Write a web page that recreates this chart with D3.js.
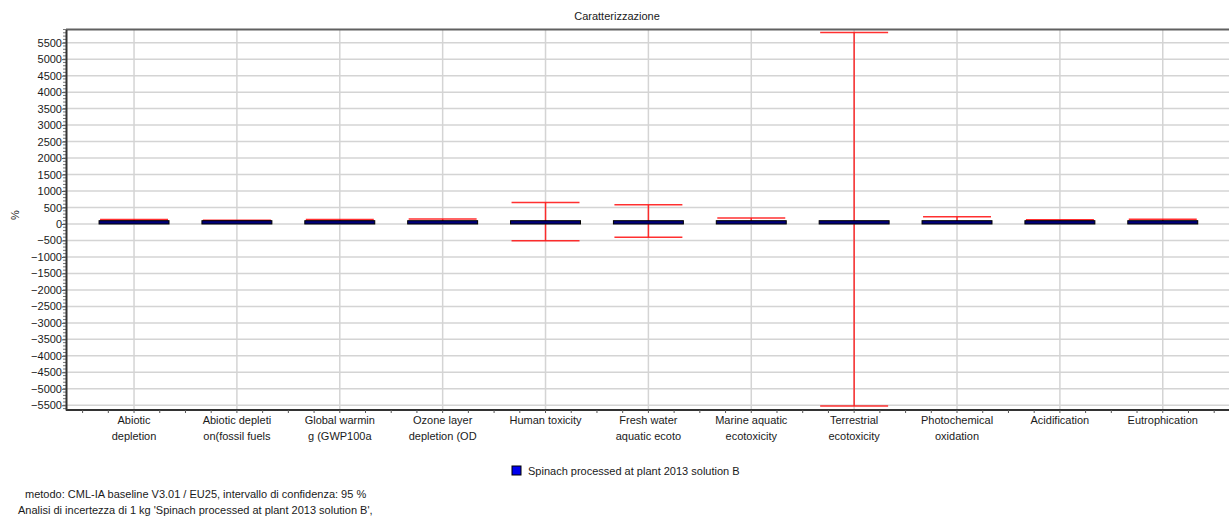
<!DOCTYPE html>
<html>
<head>
<meta charset="utf-8">
<script src="https://cdn.jsdelivr.net/npm/d3@7"></script>
<style>
  html, body { margin: 0; padding: 0; background: #fff; }
  svg { display: block; font-family: "Liberation Sans", "DejaVu Sans", sans-serif; }
</style>
</head>
<body>
<svg id="chart" width="1229" height="517"></svg>
<script>
// Impact categories (two-line labels as shown under the axis)
const categories = [
  ["Abiotic", "depletion"],
  ["Abiotic depleti", "on(fossil fuels"],
  ["Global warmin", "g (GWP100a"],
  ["Ozone layer", "depletion (OD"],
  ["Human toxicity", ""],
  ["Fresh water", "aquatic ecoto"],
  ["Marine aquatic", "ecotoxicity"],
  ["Terrestrial", "ecotoxicity"],
  ["Photochemical", "oxidation"],
  ["Acidification", ""],
  ["Eutrophication", ""]
];
// Characterisation result, % of the reference value
const values = [100, 100, 100, 100, 100, 100, 100, 100, 100, 100, 100];
// 95 % confidence interval bounds, %
const lower = [85, 90, 85, 60, -510, -400, 60, -5520, 50, 80, 60];
const upper = [135, 115, 135, 150, 650, 580, 182, 5810, 221, 130, 142];
// Y axis tick labels
const yTicks = d3.range(-5500, 5501, 500);
const yMinor = d3.range(-5600, 5901, 100);

const seriesName = "Spinach processed at plant 2013 solution B";
const footer = [
  "metodo: CML-IA baseline V3.01 / EU25, intervallo di confidenza: 95 %",
  "Analisi di incertezza di 1 kg 'Spinach processed at plant 2013 solution B',"
];

const svg = d3.select("#chart");
const plot = { left: 66, right: 1229, top: 29.5, bottom: 410 };

const x = d3.scaleBand()
  .domain(categories.map((d, i) => i))
  .range([82.6, 1214.2])
  .padding(0);
const y = d3.scaleLinear().domain([-5643, 5900]).range([plot.bottom, plot.top]);

const fontSize = 11;
const textColor = "#1a1a1a";

// Title
svg.append("text")
  .attr("x", 617).attr("y", 20)
  .attr("text-anchor", "middle")
  .attr("font-size", fontSize).attr("fill", textColor)
  .text("Caratterizzazione");

// Horizontal grid
svg.append("g").selectAll("line").data(yTicks).join("line")
  .attr("x1", plot.left).attr("x2", plot.right)
  .attr("y1", d => y(d)).attr("y2", d => y(d))
  .attr("stroke", "#d4d4d4").attr("stroke-width", 1.5);

// Vertical grid through category centres
svg.append("g").selectAll("line").data(categories.map((d, i) => i)).join("line")
  .attr("x1", i => x(i) + x.bandwidth() / 2).attr("x2", i => x(i) + x.bandwidth() / 2)
  .attr("y1", plot.top).attr("y2", plot.bottom)
  .attr("stroke", "#d4d4d4").attr("stroke-width", 1.5);

const barW = x.bandwidth() * 0.68;

// Error bars (confidence interval), drawn beneath the bars
const eb = svg.append("g").attr("stroke", "#ff1a1a").attr("stroke-width", 1.5).attr("stroke-opacity", 0.9);
categories.forEach((c, i) => {
  const cx = x(i) + x.bandwidth() / 2;
  const half = barW / 2 - 1;
  eb.append("line").attr("x1", cx).attr("x2", cx).attr("y1", y(lower[i])).attr("y2", y(upper[i]));
  eb.append("line").attr("x1", cx - half).attr("x2", cx + half).attr("y1", y(upper[i])).attr("y2", y(upper[i]));
  eb.append("line").attr("x1", cx - half).attr("x2", cx + half).attr("y1", y(lower[i])).attr("y2", y(lower[i]));
});

// Bars
svg.append("g").selectAll("rect").data(values).join("rect")
  .attr("x", (d, i) => x(i) + (x.bandwidth() - barW) / 2)
  .attr("width", barW)
  .attr("y", d => y(Math.max(0, d)))
  .attr("height", d => Math.abs(y(0) - y(d)))
  .attr("fill", "#00007a")
  .attr("stroke", "#000").attr("stroke-width", 1);

// Frame: top border
svg.append("line")
  .attr("x1", plot.left).attr("x2", plot.right)
  .attr("y1", plot.top).attr("y2", plot.top)
  .attr("stroke", "#606060").attr("stroke-width", 2);

// Y axis
const yAxis = svg.append("g").attr("transform", `translate(${plot.left},0)`);
yAxis.selectAll("line.minor").data(yMinor.filter(v => y(v) >= plot.top && y(v) <= plot.bottom)).join("line")
  .attr("class", "minor")
  .attr("x1", -3).attr("x2", 0)
  .attr("y1", d => y(d)).attr("y2", d => y(d))
  .attr("stroke", "#777").attr("stroke-width", 1);
yAxis.call(d3.axisLeft(y).tickValues(yTicks).tickSize(4).tickSizeOuter(0).tickFormat(d3.format("d")));
yAxis.select(".domain").attr("stroke", "#333").attr("stroke-width", 2);
yAxis.selectAll(".tick line").attr("stroke", "#555");
yAxis.selectAll(".tick text")
  .attr("x", -4)
  .attr("font-size", fontSize)
  .attr("font-family", "Liberation Sans, sans-serif")
  .attr("fill", textColor);

// Y axis title
svg.append("text")
  .attr("transform", "translate(19,215) rotate(-90)")
  .attr("text-anchor", "middle")
  .attr("font-size", fontSize).attr("fill", textColor)
  .text("%");

// X axis line with quarter-band ticks
const xAxis = svg.append("g");
xAxis.append("line")
  .attr("x1", plot.left).attr("x2", plot.right)
  .attr("y1", plot.bottom).attr("y2", plot.bottom)
  .attr("stroke", "#333").attr("stroke-width", 2);
const qTicks = [];
categories.forEach((c, i) => {
  for (let q = 0; q < 4; q++) qTicks.push(x(i) + q * x.bandwidth() / 4);
});
qTicks.push(x.range()[1]);
xAxis.selectAll("line.tick").data(qTicks).join("line")
  .attr("class", "tick")
  .attr("x1", d => d).attr("x2", d => d)
  .attr("y1", plot.bottom).attr("y2", plot.bottom + 3)
  .attr("stroke", "#555");

// Category labels
const lab = svg.append("g").attr("font-size", fontSize).attr("fill", textColor).attr("text-anchor", "middle");
categories.forEach((c, i) => {
  const cx = x(i) + x.bandwidth() / 2;
  const t = lab.append("text").attr("x", cx).attr("y", 424);
  t.append("tspan").attr("x", cx).attr("dy", 0).text(c[0]);
  if (c[1]) t.append("tspan").attr("x", cx).attr("dy", 15.5).text(c[1]);
});

// Legend
svg.append("rect")
  .attr("x", 512).attr("y", 466).attr("width", 9).attr("height", 9)
  .attr("fill", "#0000ee").attr("stroke", "#000").attr("stroke-width", 1);
svg.append("text")
  .attr("x", 528).attr("y", 475)
  .attr("font-size", fontSize).attr("fill", textColor)
  .text(seriesName);

// Footer notes
svg.append("text").attr("x", 25).attr("y", 498)
  .attr("font-size", fontSize).attr("fill", textColor).text(footer[0]);
svg.append("text").attr("x", 18).attr("y", 514)
  .attr("font-size", fontSize).attr("fill", textColor).text(footer[1]);
</script>
</body>
</html>
